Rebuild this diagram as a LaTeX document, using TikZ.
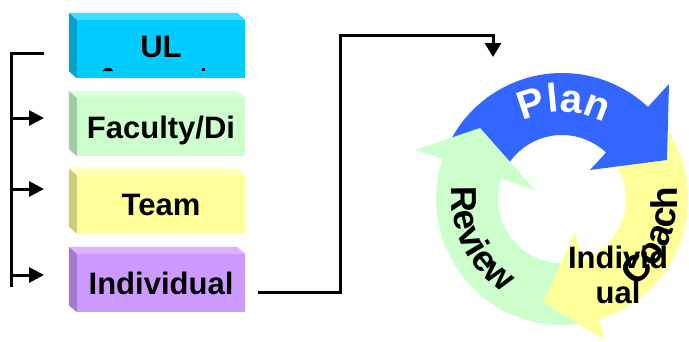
\documentclass[tikz,border=0pt]{standalone}
\usepackage{fontspec}
\setmainfont{Liberation Sans}
\usetikzlibrary{arrows.meta,calc,decorations.text}
\definecolor{ulfront}{HTML}{00CCFF}
\definecolor{ultop}{HTML}{40D9FF}
\definecolor{ulside}{HTML}{00A3CC}
\definecolor{facfront}{HTML}{CCFFCC}
\definecolor{factop}{HTML}{DCFFDC}
\definecolor{facside}{HTML}{A3CCA3}
\definecolor{teamfront}{HTML}{FFFF99}
\definecolor{teamtop}{HTML}{FFFFB8}
\definecolor{teamside}{HTML}{CCCC7A}
\definecolor{indfront}{HTML}{CC99FF}
\definecolor{indtop}{HTML}{DBB3FF}
\definecolor{indside}{HTML}{A37ACC}
\definecolor{cycblue}{HTML}{3366FF}
\definecolor{cycgreen}{HTML}{CCFFCC}
\definecolor{cycyellow}{HTML}{FFFF99}
\begin{document}
\begin{tikzpicture}[x=1pt,y=1pt,
  boxfront/.style={minimum width=168pt, minimum height=58pt, inner sep=0pt,
    text height=22pt, text depth=0pt, font=\bfseries\fontsize{31}{35}\selectfont},
  boxtext/.style={inner sep=0pt, font=\bfseries\fontsize{31}{35}\selectfont},
  conn/.style={line width=3pt, line join=miter, draw=black},
  tipped/.style={-{Triangle[length=15pt,width=15pt]}}]
\useasboundingbox (0,0) rectangle (689,-341);

% ---------- level boxes ----------
\node[boxfront, fill=ulfront] (ul) at (161,-49) {};
\node[boxtext, anchor=base] (ultext) at (161,-57) {UL};
\fill[black] (103,-71) .. controls (104.5,-66.5) and (111.5,-66.5) .. (113,-71) -- cycle;
\fill[black] (202,-67.5) rectangle (205,-71);
\node[boxfront, fill=facfront] (fac) at (161,-127) {Faculty/Di};
\node[boxfront, fill=teamfront] (team) at (161,-204.5) {Team};
\node[boxfront, fill=indfront] (ind) at (161,-283) {Individual};
\foreach \n/\s/\t in {ul/ulside/ultop, fac/facside/factop, team/teamside/teamtop, ind/indside/indtop}{
  \fill[\t] (\n.north west) -- (\n.north east) -- ++(-8,7) -- ($(\n.north west)+(-8,7)$) -- cycle;
  \fill[\s] (\n.north west) -- ++(-8,7) -- ($(\n.south west)+(-8,7)$) -- (\n.south west) -- cycle;
}

% ---------- left bracket ----------
\coordinate (brtopend) at (44,-53);
\coordinate (brtop) at (11,-53);
\coordinate (brbot) at (11,-287);
\coordinate (brfac) at (11,-118);
\coordinate (brteam) at (11,-189);
\coordinate (brind) at (11,-275);
\coordinate (tofac) at (44,-118);
\coordinate (toteam) at (44,-189);
\coordinate (toind) at (44,-275);
\draw[conn] (brtopend) -- (brtop) -- (brbot);
\draw[conn, tipped] (brfac) -- (tofac);
\draw[conn, tipped] (brteam) -- (toteam);
\draw[conn, tipped] (brind) -- (toind);

% ---------- connector to cycle ----------
\coordinate (indout) at (258,-292);
\coordinate (cyclein) at (493,-57);
\draw[conn, -{Triangle[length=14pt,width=16pt]}] (indout) -- (340,-292) -- (340,-35) -- (493,-35) -- (cyclein);

% ---------- cycle ----------
\coordinate (C) at (562,-199);
% bodies
\fill[cycblue] ($(C)+(153:126)$) arc[start angle=153, end angle=45, radius=126]
   -- ($(C)+(45:64)$) arc[start angle=45, end angle=153, radius=64] -- cycle;
\fill[cycyellow] ($(C)+(35:126)$) arc[start angle=35, end angle=-75, radius=126]
   -- ($(C)+(-75:64)$) arc[start angle=-75, end angle=35, radius=64] -- cycle;
\fill[cycgreen] ($(C)+(282:126)$) arc[start angle=282, end angle=157, radius=126]
   -- ($(C)+(157:64)$) arc[start angle=157, end angle=282, radius=64] -- cycle;
% heads
\fill[cycblue] (669,-84) -- (667,-160) -- (590,-170) -- cycle;
\fill[cycgreen] (415,-150) -- (480,-128) -- (535,-190) -- cycle;
\fill[cycyellow] (575,-232) -- (543,-302) -- (605,-340) -- cycle;
% labels
\path[decorate, decoration={text along path, text align=center, text color=white,
   text={|\bfseries\fontsize{40}{40}\selectfont|Plan}}]
   ($(C)+(172:87)$) arc[start angle=172, end angle=6, radius=87];
\path[decorate, decoration={text along path, text align=center,
   text={|\bfseries\fontsize{36}{36}\selectfont|Review}}]
   ($(C)+(146:110)$) arc[start angle=146, end angle=266, radius=110];
\path[decorate, decoration={text along path, text align=center,
   text={|\bfseries\fontsize{37}{37}\selectfont|Coach}}]
   ($(C)+(-82:115)$) arc[start angle=-82, end angle=38, radius=115];
\node[boxtext, anchor=base] (indiv1) at (618,-268) {Individ};
\node[boxtext, anchor=base] (indiv2) at (618,-303) {ual};
\end{tikzpicture}
\end{document}
